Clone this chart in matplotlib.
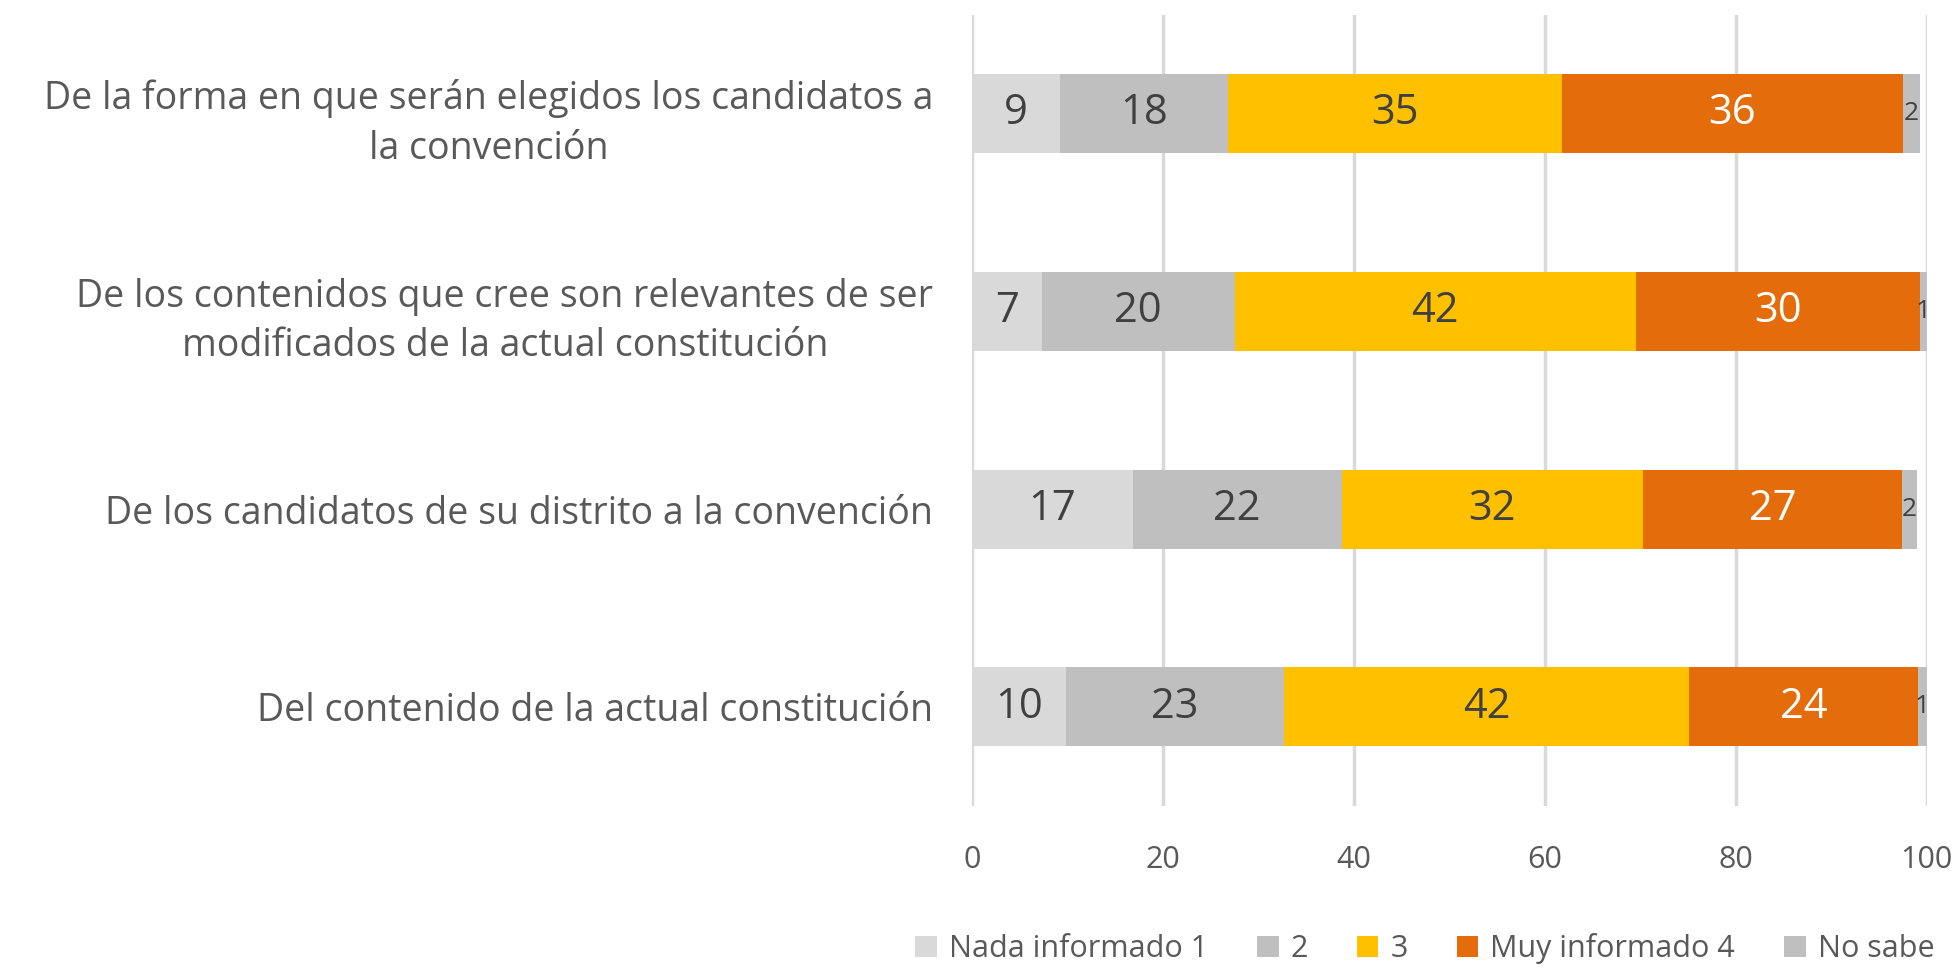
import matplotlib.pyplot as plt
import numpy as np

# categories, top to bottom
categories = [
    "De la forma en que serán elegidos los candidatos a\nla convención",
    "De los contenidos que cree son relevantes de ser\nmodificados de la actual constitución",
    "De los candidatos de su distrito a la convención",
    "Del contenido de la actual constitución",
]
series_names = ["Nada informado 1", "2", "3", "Muy informado 4", "No sabe"]

# percentages
nada = [9.2, 7.3, 16.8, 9.8]
dos = [17.6, 20.2, 21.9, 22.9]
tres = [35.0, 42.0, 31.6, 42.4]
muy = [35.7, 29.8, 27.1, 24.0]
no_sabe = [1.8, 0.7, 1.6, 0.9]

colors = ["#D9D9D9", "#BFBFBF", "#FFC000", "#E46C0A", "#BFBFBF"]
text_colors = ["#404040", "#404040", "#404040", "white", "#404040"]

plt.rcParams['font.family'] = ['Open Sans', 'DejaVu Sans']

fig = plt.figure(figsize=(19.6, 9.72), dpi=100)
ax = fig.add_axes([0.496, 0.171, 0.487, 0.814])

y = np.arange(len(categories))
left = np.zeros(len(categories))
for i, vals in enumerate([nada, dos, tres, muy, no_sabe]):
    vals = np.array(vals)
    bars = ax.barh(y, vals, left=left, height=0.4, color=colors[i],
                   label=series_names[i], zorder=3)
    size = 19 if i == 4 else 30
    for j, b in enumerate(bars):
        cx = left[j] + vals[j] / 2
        ax.text(cx, y[j], f"{vals[j]:.0f}", ha='center', va='center',
                color=text_colors[i], fontsize=size, zorder=4)
    left += vals

ax.set_xlim(0, 100)
ax.set_ylim(3.5, -0.5)
ax.set_xticks([0, 20, 40, 60, 80, 100])
ax.set_yticks(y)
ax.set_yticklabels(categories, fontsize=27, color="#595959", linespacing=1.4)
ax.tick_params(axis='x', labelsize=22, colors="#595959", length=0, pad=28)
ax.tick_params(axis='y', length=0, pad=28)
for t in ax.get_yticklabels():
    t.set_horizontalalignment('right')
    t.set_multialignment('center')
ax.grid(axis='x', color='#D9D9D9', linewidth=2.5, zorder=0)
for s in ax.spines.values():
    s.set_visible(False)

fig.legend(loc='center', bbox_to_anchor=(0.727, 0.024), ncol=5, frameon=False,
           fontsize=22, labelcolor="#595959", handlelength=0.7, handleheight=0.7,
           handletextpad=0.4, columnspacing=1.6)

fig.savefig("out.png", dpi=100)
